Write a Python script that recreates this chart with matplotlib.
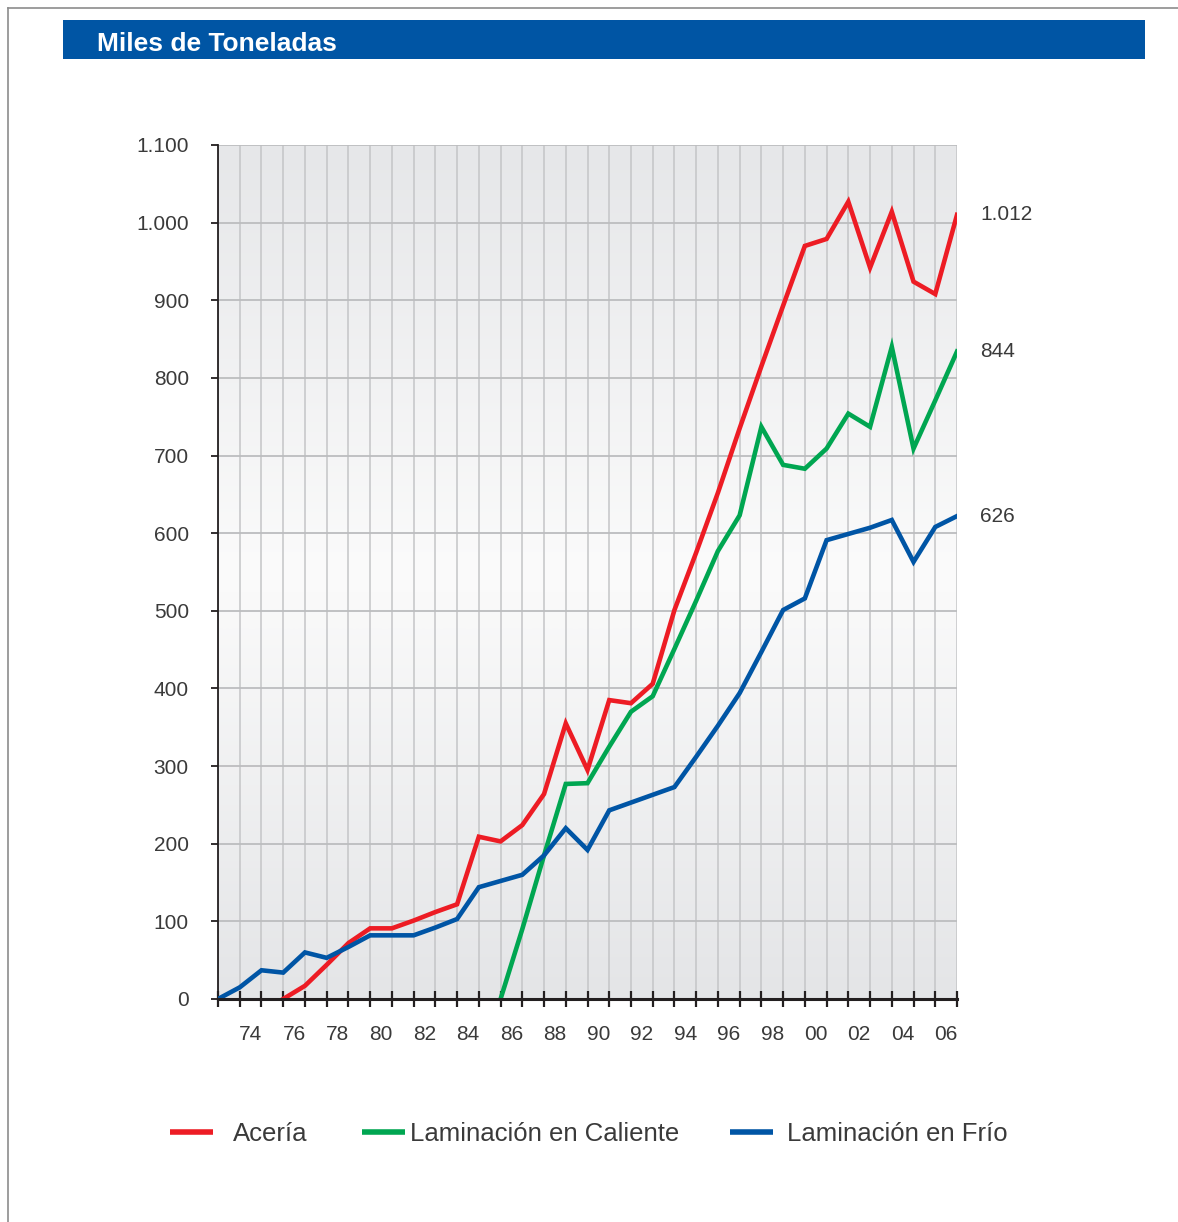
import matplotlib
matplotlib.use("Agg")
import matplotlib.pyplot as plt
import numpy as np
from matplotlib.lines import Line2D
from matplotlib.patches import Rectangle
from matplotlib.colors import LinearSegmentedColormap

plt.rcParams['font.family'] = ['Liberation Sans', 'DejaVu Sans']

# data (miles de toneladas)
years_frio = list(range(1972, 2007))
frio = [0, 15, 37, 34, 60, 53, 67, 82, 82, 82, 92, 103, 144, 152, 160, 185, 220, 192,
        243, 253, 263, 273, 312, 352, 394, 447, 501, 516, 591, 599, 607, 617, 563, 608, 622]

years_aceria = list(range(1975, 2007))
aceria = [0, 17, 44, 72, 91, 91, 101, 112, 122, 209, 203, 224, 264, 355, 295, 385, 381,
          406, 501, 575, 652, 735, 815, 893, 970, 979, 1027, 942, 1014, 924, 908, 1010]

years_caliente = list(range(1985, 2007))
caliente = [0, 90, 185, 277, 278, 325, 370, 390, 451, 513, 577, 623, 737, 688, 683, 709,
            754, 737, 840, 709, 771, 834]

series_names = ["Acería", "Laminación en Caliente", "Laminación en Frío"]
series_colors = ["#ED1C24", "#00A651", "#0055A5"]
end_labels = ["1.012", "844", "626"]

y_ticks = list(range(0, 1101, 100))
y_ticklabels = ["0", "100", "200", "300", "400", "500", "600", "700", "800", "900",
                "1.000", "1.100"]
x_label_years = list(range(1974, 2007, 2))
x_ticklabels = ["%02d" % (y % 100) for y in x_label_years]

W, H = 1178, 1222
fig = plt.figure(figsize=(W / 100, H / 100), dpi=100)

# outer frame (top and left only)
fig.add_artist(Line2D([8 / W, 8 / W], [0, 1 - 8 / H], color="#8c8c8c", lw=1.2))
fig.add_artist(Line2D([8 / W, 1], [1 - 8 / H, 1 - 8 / H], color="#8c8c8c", lw=1.2))

# blue title banner
fig.add_artist(Rectangle((63 / W, 1 - 59 / H), (1145 - 63) / W, 39 / H,
                         transform=fig.transFigure, color="#0055A4", lw=0))
fig.text(97 / W, 1 - 51 / H, "Miles de Toneladas", color="white",
         fontsize=19, fontweight="bold", va="baseline", ha="left")

ax = fig.add_axes([218 / W, 1 - 999 / H, (957 - 218) / W, (999 - 145) / H])

# gradient background
cmap = LinearSegmentedColormap.from_list(
    "bg", [(0, "#e4e5e7"), (0.5, "#fbfbfb"), (1, "#e6e7e9")])
grad = np.linspace(0, 1, 256).reshape(-1, 1)
ax.imshow(grad, cmap=cmap, aspect="auto", extent=[1972, 2006, 1100, 0],
          zorder=0, interpolation="bicubic")

ax.set_xlim(1972, 2006)
ax.set_ylim(0, 1100)

# grid
for yr in range(1972, 2007):
    ax.axvline(yr, color="#c4c5c7", lw=1.1, zorder=1)
for v in y_ticks[1:]:
    ax.axhline(v, color="#bcbdbf", lw=1.3, zorder=1)

for xs, ys, c in zip([years_aceria, years_caliente, years_frio],
                     [aceria, caliente, frio], series_colors):
    ax.plot(xs, ys, color=c, lw=3.3, solid_joinstyle="miter", zorder=3)

# end values
for xs, ys, lab in zip([years_aceria, years_caliente, years_frio],
                       [aceria, caliente, frio], end_labels):
    ax.annotate(lab, (xs[-1], ys[-1]), xytext=(16.5, 0), textcoords="offset points",
                va="center", ha="left", fontsize=15, color="#3a3a3a",
                annotation_clip=False)

# axes styling
for s in ["top", "right"]:
    ax.spines[s].set_visible(False)
ax.spines["left"].set_color("#231f20")
ax.spines["left"].set_linewidth(1.3)
ax.spines["bottom"].set_color("#231f20")
ax.spines["bottom"].set_linewidth(2.2)
ax.spines["bottom"].set_zorder(4)

ax.set_yticks(y_ticks)
ax.set_yticklabels(y_ticklabels, fontsize=15, color="#3a3a3a")
ax.tick_params(axis="y", direction="out", length=5, width=1.3, color="#231f20", pad=16)

ax.set_xticks(range(1972, 2007))
ax.set_xticklabels([])
ax.tick_params(axis="x", which="major", direction="inout", length=12, width=1.6,
               color="#231f20")
ax.set_xticks([y - 0.5 for y in x_label_years], minor=True)
ax.set_xticklabels(x_ticklabels, minor=True, fontsize=15, color="#3a3a3a")
ax.tick_params(axis="x", which="minor", length=0, pad=19)

# legend drawn by hand
leg_line_x = [(170, 213), (362, 405), (730, 773)]
leg_text_x = [233, 410, 787]
for (x0, x1), tx, name, c in zip(leg_line_x, leg_text_x, series_names, series_colors):
    fig.add_artist(Line2D([x0 / W, x1 / W], [1 - 1132 / H, 1 - 1132 / H], color=c, lw=4,
                          solid_capstyle="butt"))
    fig.text(tx / W, 1 - 1141 / H, name, fontsize=18.5, color="#3a3a3a",
             va="baseline", ha="left")

fig.savefig("out.png", dpi=100)
